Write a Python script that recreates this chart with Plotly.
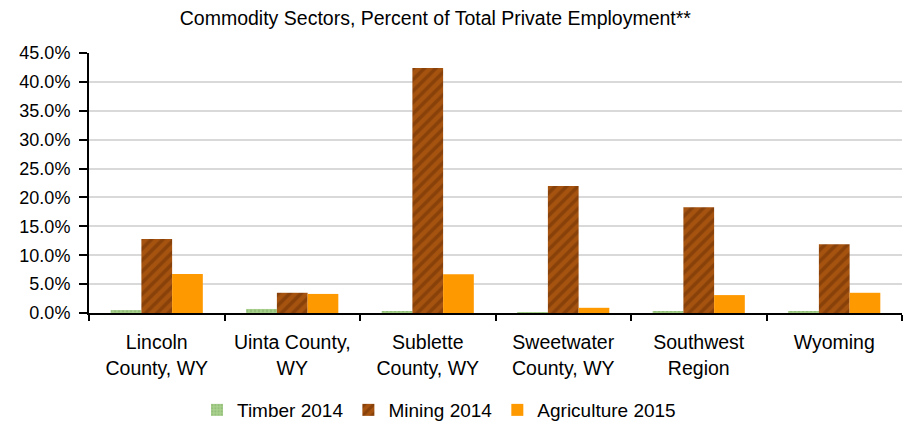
import plotly.graph_objects as go

categories = ["Lincoln<br>County, WY", "Uinta County,<br>WY", "Sublette<br>County, WY",
              "Sweetwater<br>County, WY", "Southwest<br>Region", "Wyoming"]
timber_2014 = [0.005, 0.007, 0.003, 0.001, 0.003, 0.003]
mining_2014 = [0.128, 0.035, 0.424, 0.220, 0.183, 0.119]
agriculture_2015 = [0.0675, 0.033, 0.067, 0.009, 0.031, 0.035]

font = "Liberation Sans, Arial, sans-serif"

fig = go.Figure()
fig.add_trace(go.Bar(
    name="Timber 2014", x=categories, y=timber_2014,
    marker=dict(color="#a9d18e", line=dict(width=0),
                pattern=dict(shape=".", fgcolor="#7fae66", size=4, solidity=0.4)),
))
fig.add_trace(go.Bar(
    name="Mining 2014", x=categories, y=mining_2014,
    marker=dict(color="#a5530f", line=dict(width=0),
                pattern=dict(shape="/", fgcolor="#6e2f06", size=8, solidity=0.45)),
))
fig.add_trace(go.Bar(
    name="Agriculture 2015", x=categories, y=agriculture_2015,
    marker=dict(color="#ff9900", line=dict(width=0)),
))

fig.update_layout(
    width=907, height=428,
    margin=dict(l=89, r=5, t=53, b=115, autoexpand=False),
    paper_bgcolor="white", plot_bgcolor="white",
    barmode="group", bargap=0.32, bargroupgap=0,
    font=dict(family=font, size=19, color="#000000"),
    title=dict(text="Commodity Sectors, Percent of Total Private Employment**",
               xref="container", x=0.48, xanchor="center",
               yref="container", y=0.958, yanchor="middle",
               font=dict(family=font, size=19.5, color="#000000")),
    legend=dict(orientation="h", xref="container", x=0.484, xanchor="center",
                yref="container", y=0.042, yanchor="middle",
                font=dict(family=font, size=19), itemwidth=30,
                traceorder="normal", tracegroupgap=0),
    showlegend=True,
)
fig.update_xaxes(
    showline=True, linecolor="#000000", linewidth=2,
    ticks="outside", tickson="boundaries", ticklen=6, tickcolor="#000000", tickwidth=2,
    ticklabelstandoff=11,
    tickfont=dict(family=font, size=19.5),
    showgrid=False,
)
fig.update_yaxes(
    range=[0, 0.45], dtick=0.05, tickformat=".1%",
    showline=True, linecolor="#000000", linewidth=2,
    ticks="outside", ticklen=8, tickcolor="#000000", tickwidth=2,
    ticklabelstandoff=5,
    showgrid=True, gridcolor="#d9d9d9", gridwidth=2,
    zeroline=False,
    tickfont=dict(family=font, size=18),
)

fig.write_html("out.html")
